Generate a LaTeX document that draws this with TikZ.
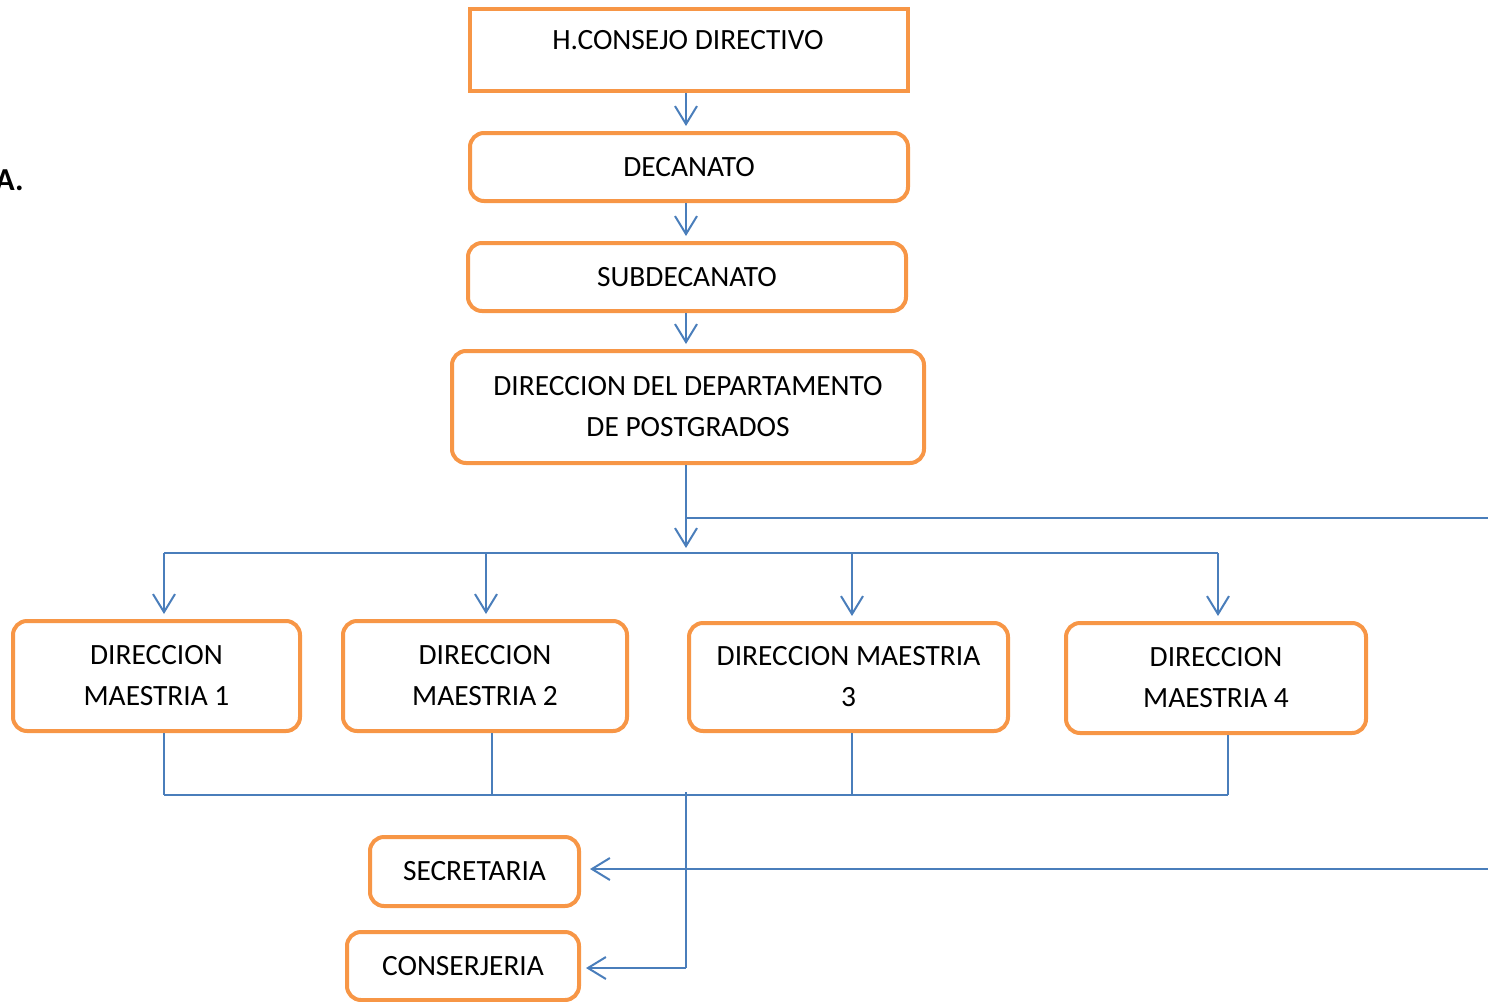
\documentclass[tikz,border=0pt]{standalone}
\usepackage{fontspec}
\setmainfont{Carlito}
\usetikzlibrary{arrows.meta}
\definecolor{boxorange}{HTML}{F79646}
\definecolor{lineblue}{HTML}{4A7EBB}
\tikzset{
  orgbox/.style={draw=boxorange, line width=2pt, rounded corners=7pt, fill=white,
    align=center, inner sep=0pt, font=\fontsize{14.7}{20.5}\selectfont},
  sharpbox/.style={orgbox, rounded corners=0pt},
  txt/.style={inner sep=0pt, font=\fontsize{14.7}{20.5}\selectfont},
  link/.style={draw=lineblue, line width=1pt},
  arr/.style={link, -{Straight Barb[length=9pt,width=11pt,line width=1pt]}},
}
\begin{document}
\begin{tikzpicture}[x=0.5pt,y=-0.5pt]
\useasboundingbox (0,0) rectangle (1488,1001);
% boxes
\node[sharpbox, minimum width=219pt, minimum height=41pt] (consejo) at (689,50) {};
\node[txt] (consejotxt) at (688,40) {H.CONSEJO DIRECTIVO};
\node[orgbox, minimum width=219pt, minimum height=34pt] (decanato) at (689,167) {DECANATO};
\node[orgbox, minimum width=219pt, minimum height=34pt] (subdecanato) at (687,277) {SUBDECANATO};
\node[orgbox, minimum width=236pt, minimum height=56pt] (dirdep) at (688,407) {DIRECCION DEL DEPARTAMENTO\\DE POSTGRADOS};
\node[orgbox, minimum width=143.5pt, minimum height=55pt] (m1) at (156.5,676) {DIRECCION\\MAESTRIA 1};
\node[orgbox, minimum width=142pt, minimum height=55pt] (m2) at (485,676) {DIRECCION\\MAESTRIA 2};
\node[orgbox, minimum width=159.5pt, minimum height=54pt] (m3) at (848.5,677) {DIRECCION MAESTRIA\\3};
\node[orgbox, minimum width=150pt, minimum height=55pt] (m4) at (1216,678) {DIRECCION\\MAESTRIA 4};
\node[orgbox, minimum width=104.5pt, minimum height=34.5pt] (sec) at (474.5,871.5) {SECRETARIA};
\node[orgbox, minimum width=116pt, minimum height=34pt] (cons) at (463,966) {CONSERJERIA};
\node[txt, anchor=east, font=\fontsize{16}{20}\selectfont\bfseries] (lettera) at (24,180) {A.};
% coordinates
\coordinate (spine) at (686,0);
\coordinate (hub) at (686,553);
\coordinate (rj) at (686,518);
\coordinate (redge1) at (1488,518);
\coordinate (a1) at (164,553);
\coordinate (a2) at (486,553);
\coordinate (a3) at (852,553);
\coordinate (a4) at (1218,553);
\coordinate (b1) at (164,795);
\coordinate (b2) at (492,795);
\coordinate (b3) at (852,795);
\coordinate (b4) at (1228,795);
\coordinate (vtop) at (686,792);
\coordinate (vbot) at (686,968);
\coordinate (redge2) at (1488,869);
% vertical chain
\draw[arr, shorten >=2.5pt] (spine |- consejo.south) -- (spine |- decanato.north);
\draw[arr, shorten >=2.5pt] (spine |- decanato.south) -- (spine |- subdecanato.north);
\draw[arr, shorten >=2.5pt] (spine |- subdecanato.south) -- (spine |- dirdep.north);
\draw[arr, shorten >=2.5pt] (spine |- dirdep.south) -- (hub);
\draw[link] (rj) -- (redge1);
% top bus
\draw[link] (a1) -- (a4);
\draw[arr, shorten >=2.5pt] (a1) -- (a1 |- m1.north);
\draw[arr, shorten >=2.5pt] (a2) -- (a2 |- m2.north);
\draw[arr, shorten >=2.5pt] (a3) -- (a3 |- m3.north);
\draw[arr, shorten >=2.5pt] (a4) -- (a4 |- m4.north);
% bottom bus
\draw[link, line width=0.8pt] (b1 |- m1.south) -- (b1);
\draw[link, line width=0.8pt] (b2 |- m2.south) -- (b2);
\draw[link, line width=0.8pt] (b3 |- m3.south) -- (b3);
\draw[link, line width=0.8pt] (b4 |- m4.south) -- (b4);
\draw[link] (b1) -- (b4);
\draw[link] (vtop) -- (vbot);
\draw[arr, shorten >=2.5pt] (vbot) -- (cons.east |- vbot);
\draw[arr, shorten >=4.5pt] (redge2) -- (sec.east |- redge2);
\end{tikzpicture}
\end{document}
